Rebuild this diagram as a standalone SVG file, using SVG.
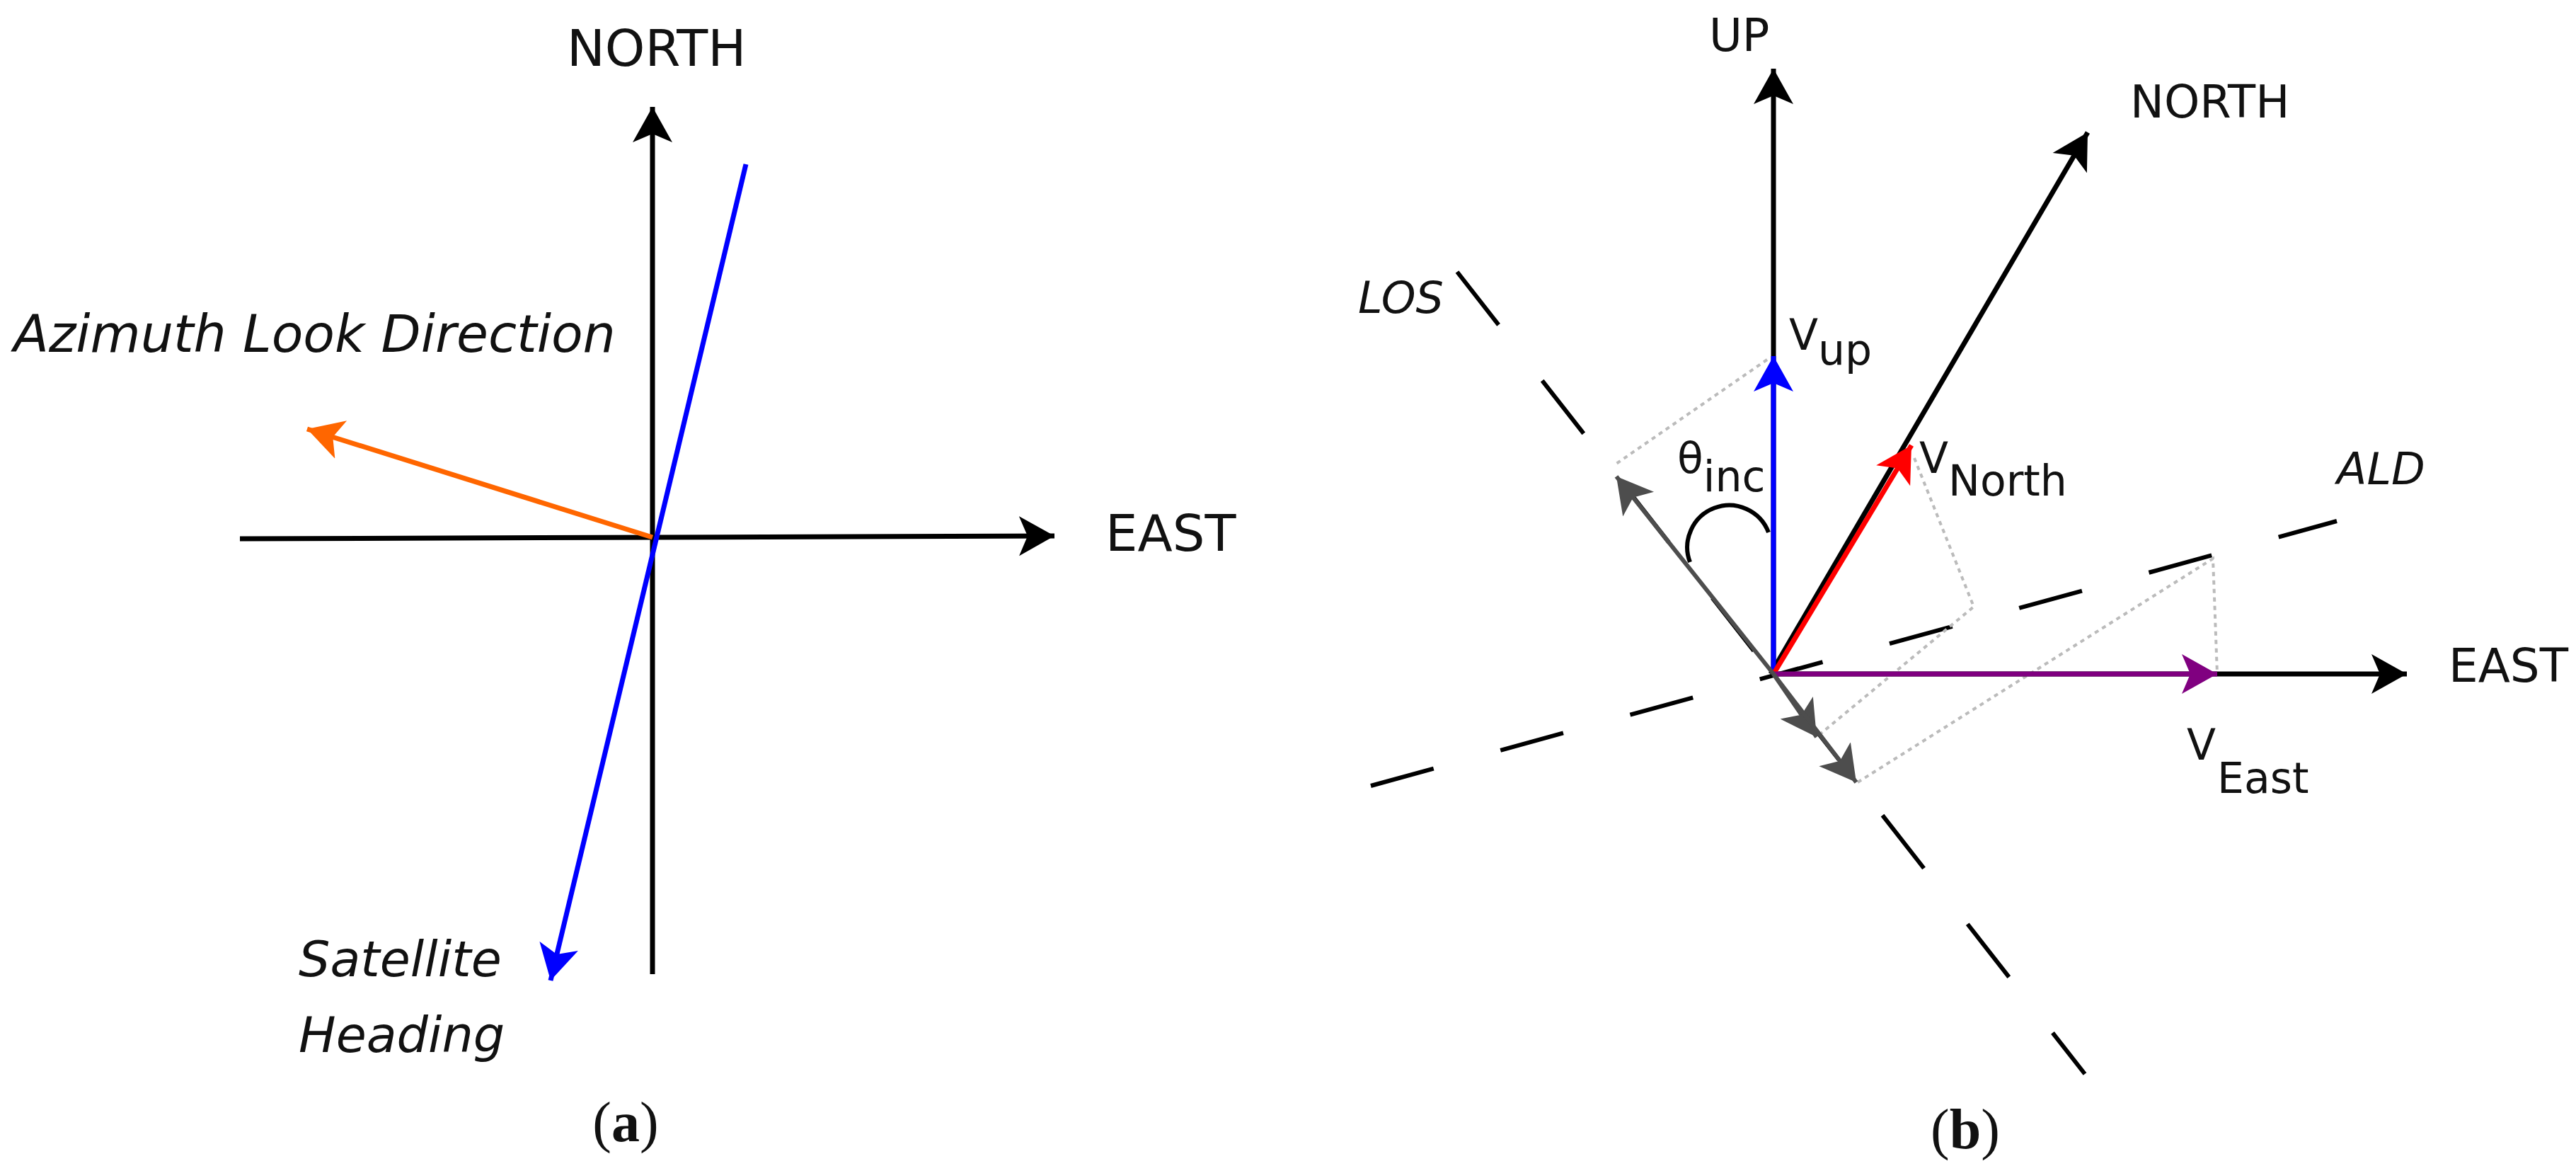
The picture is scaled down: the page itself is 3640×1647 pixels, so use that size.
<svg xmlns="http://www.w3.org/2000/svg" width="3640" height="1647" viewBox="0 0 3640 1647">
<style>
text{font-family:"DejaVu Sans","Liberation Sans",sans-serif;fill:#111}
.it{font-style:italic}
.cap{font-family:"Liberation Serif",serif;font-size:80px}
.ax{stroke:#000;stroke-width:7;fill:none}
</style>
<defs>
<marker id="mk" markerUnits="userSpaceOnUse" markerWidth="60" markerHeight="60" refX="50" refY="30" orient="auto"><path d="M0,2 L50,30 L0,58 L12,30 Z" fill="#000"/></marker>
<marker id="mb" markerUnits="userSpaceOnUse" markerWidth="60" markerHeight="60" refX="50" refY="30" orient="auto"><path d="M0,2 L50,30 L0,58 L12,30 Z" fill="#0000ff"/></marker>
<marker id="mo" markerUnits="userSpaceOnUse" markerWidth="60" markerHeight="60" refX="50" refY="30" orient="auto"><path d="M0,2 L50,30 L0,58 L12,30 Z" fill="#ff6600"/></marker>
<marker id="mr" markerUnits="userSpaceOnUse" markerWidth="60" markerHeight="60" refX="50" refY="30" orient="auto"><path d="M0,2 L50,30 L0,58 L12,30 Z" fill="#ff0000"/></marker>
<marker id="mp" markerUnits="userSpaceOnUse" markerWidth="60" markerHeight="60" refX="50" refY="30" orient="auto"><path d="M0,2 L50,30 L0,58 L12,30 Z" fill="#800080"/></marker>
<marker id="mg" markerUnits="userSpaceOnUse" markerWidth="60" markerHeight="60" refX="50" refY="30" orient="auto"><path d="M0,2 L50,30 L0,58 L12,30 Z" fill="#4d4d4d"/></marker>
</defs>
<g id="panel-a">
<g id="connectors-a">
<line class="ax" x1="339" y1="761" x2="1490" y2="757" marker-end="url(#mk)"/>
<line class="ax" x1="922" y1="1376" x2="922" y2="151" marker-end="url(#mk)"/>
<line x1="922" y1="759" x2="434" y2="606" stroke="#ff6600" stroke-width="7" marker-end="url(#mo)"/>
<line x1="1054" y1="232" x2="778" y2="1385" stroke="#0000ff" stroke-width="7" marker-end="url(#mb)"/>
</g>
<text x="801" y="93" font-size="72">NORTH</text>
<text x="1562" y="778" font-size="72">EAST</text>
<text class="it" x="19" y="497" font-size="73">Azimuth Look Direction</text>
<text class="it" x="422" y="1379" font-size="70">Satellite</text>
<text class="it" x="422" y="1486" font-size="70">Heading</text>
<text class="cap" x="884" y="1612" text-anchor="middle">(<tspan font-weight="bold">a</tspan>)</text>
</g>
<g id="panel-b">
<g id="connectors-b">
<line x1="1937" y1="1110" x2="3302" y2="736" stroke="#000" stroke-width="6" stroke-dasharray="92 98"/>
<line x1="2059" y1="384" x2="2946" y2="1517" stroke="#000" stroke-width="6" stroke-dasharray="95 100"/>
<g stroke="#bbb" stroke-width="4" stroke-dasharray="6 6" fill="none">
<polyline points="2497,508 2281,657"/>
<polyline points="2705,647 2789,857 2567,1041"/>
<polyline points="2625,1105 3127,789 3133,952"/>
</g>
<line class="ax" x1="2502" y1="952" x2="3401" y2="952" marker-end="url(#mk)"/>
<line class="ax" x1="2506" y1="952" x2="2506" y2="97" marker-end="url(#mk)"/>
<line class="ax" x1="2502" y1="952" x2="2950" y2="187" marker-end="url(#mk)"/>
<line x1="2506" y1="952" x2="2506" y2="503" stroke="#0000ff" stroke-width="7" marker-end="url(#mb)"/>
<line x1="2506" y1="952" x2="2701" y2="629" stroke="#ff0000" stroke-width="7" marker-end="url(#mr)"/>
<line x1="2506" y1="952" x2="3133" y2="952" stroke="#800080" stroke-width="7" marker-end="url(#mp)"/>
<line x1="2506" y1="952" x2="2284" y2="673" stroke="#4d4d4d" stroke-width="6" marker-end="url(#mg)"/>
<line x1="2506" y1="952" x2="2567" y2="1041" stroke="#4d4d4d" stroke-width="6" marker-end="url(#mg)"/>
<line x1="2506" y1="952" x2="2623" y2="1105" stroke="#4d4d4d" stroke-width="6" marker-end="url(#mg)"/>
<path d="M2388,794 A56,56 0 0 1 2499,752" stroke="#000" stroke-width="6" fill="none"/>
</g>
<text x="2415" y="72" font-size="64">UP</text>
<text x="3010" y="166" font-size="64">NORTH</text>
<text x="3460" y="963" font-size="66">EAST</text>
<text class="it" x="1919" y="442" font-size="62">LOS</text>
<text class="it" x="3302" y="684" font-size="62">ALD</text>
<text x="2528" y="494" font-size="60">V<tspan y="515">up</tspan></text>
<text x="2712" y="668" font-size="60">V<tspan y="700">North</tspan></text>
<text x="2370" y="668" font-size="60">θ<tspan y="694">inc</tspan></text>
<text x="3090" y="1073" font-size="60">V</text>
<text x="3133" y="1120" font-size="60">East</text>
<text class="cap" x="2777" y="1622" text-anchor="middle">(<tspan font-weight="bold">b</tspan>)</text>
</g>
</svg>
